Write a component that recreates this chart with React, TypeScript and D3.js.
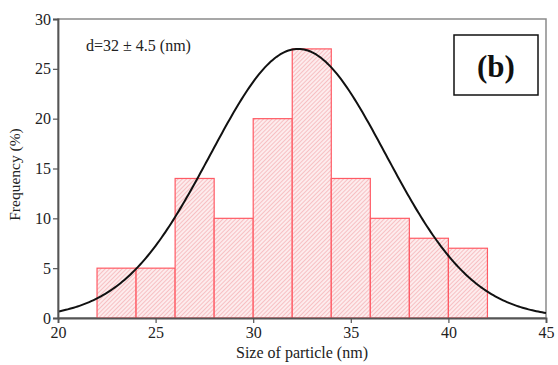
import { useEffect, useRef } from "react";
import * as d3 from "d3";

const W = 558;
const H = 365;
const MARGIN = { top: 19, right: 12, bottom: 47, left: 58 };

// histogram bins (nm) and frequencies (%)
const binStarts = [22, 24, 26, 28, 30, 32, 34, 36, 38, 40];
const binWidth = 2;
const frequencies = [5, 5, 14, 10, 20, 27, 14, 10, 8, 7];

const xTicks = [20, 25, 30, 35, 40, 45];
const yTicks = [0, 5, 10, 15, 20, 25, 30];

// gaussian fit parameters
const FIT_MEAN = 32.3;
const FIT_SIGMA = 4.5;
const FIT_PEAK = 27;

const FONT = '"Liberation Serif", "Times New Roman", serif';

export default function App() {
  const svgRef = useRef<SVGSVGElement>(null);

  useEffect(() => {
    const svgEl = svgRef.current;
    if (!svgEl) return;
    const svg = d3.select(svgEl);
    svg.selectAll("*").remove();

    const x = d3.scaleLinear().domain([20, 45]).range([MARGIN.left, W - MARGIN.right]);
    const y = d3.scaleLinear().domain([0, 30]).range([H - MARGIN.bottom, MARGIN.top]);

    const defs = svg.append("defs");
    const pat = defs
      .append("pattern")
      .attr("id", "hatch")
      .attr("patternUnits", "userSpaceOnUse")
      .attr("width", 3)
      .attr("height", 3)
      .attr("patternTransform", "rotate(45)");
    pat.append("rect").attr("width", 3).attr("height", 3).attr("fill", "#fdeced");
    pat
      .append("line")
      .attr("x1", 0)
      .attr("y1", 0)
      .attr("x2", 0)
      .attr("y2", 3)
      .attr("stroke", "#f2959a")
      .attr("stroke-width", 1);

    // frame
    svg
      .append("rect")
      .attr("x", x(20))
      .attr("y", y(30))
      .attr("width", x(45) - x(20))
      .attr("height", y(0) - y(30))
      .attr("fill", "none")
      .attr("stroke", "#8a8a8a")
      .attr("stroke-width", 1.5);

    // bars
    svg
      .append("g")
      .selectAll("rect")
      .data(binStarts)
      .join("rect")
      .attr("x", (d) => x(d))
      .attr("y", (_, i) => y(frequencies[i]))
      .attr("width", (d) => x(d + binWidth) - x(d))
      .attr("height", (_, i) => y(0) - y(frequencies[i]))
      .attr("fill", "url(#hatch)")
      .attr("stroke", "#ff5a64")
      .attr("stroke-width", 1.2);

    // fit curve
    const xs = d3.range(20, 45.01, 0.1);
    const line = d3
      .line<number>()
      .x((d) => x(d))
      .y((d) => y(FIT_PEAK * Math.exp(-((d - FIT_MEAN) ** 2) / (2 * FIT_SIGMA ** 2))));
    svg
      .append("path")
      .datum(xs)
      .attr("d", line)
      .attr("fill", "none")
      .attr("stroke", "#111")
      .attr("stroke-width", 2);

    // axes
    const xAxis = svg
      .append("g")
      .attr("transform", `translate(0,${y(0)})`)
      .call(d3.axisBottom(x).tickValues(xTicks).tickSize(5).tickPadding(4));
    const yAxis = svg
      .append("g")
      .attr("transform", `translate(${x(20)},0)`)
      .call(d3.axisLeft(y).tickValues(yTicks).tickSize(5).tickPadding(2));
    [xAxis, yAxis].forEach((g) => {
      g.attr("font-family", null).attr("font-size", null);
      g.select(".domain").attr("stroke", "#555").attr("stroke-width", 1.8);
      g.selectAll(".tick line").attr("stroke", "#555").attr("stroke-width", 1.2);
      g.selectAll(".tick text")
        .attr("fill", "#222")
        .style("font-family", FONT)
        .style("font-size", "16px");
    });

    svg
      .append("text")
      .attr("x", (x(20) + x(45)) / 2)
      .attr("y", H - 7)
      .attr("text-anchor", "middle")
      .style("font-family", FONT)
      .style("font-size", "16px")
      .attr("fill", "#222")
      .text("Size of particle (nm)");

    svg
      .append("text")
      .attr("transform", `translate(20,${(y(0) + y(30)) / 2 + 6}) rotate(-90)`)
      .attr("text-anchor", "middle")
      .style("font-family", FONT)
      .style("font-size", "15.5px")
      .attr("fill", "#222")
      .text("Frequency (%)");

    svg
      .append("text")
      .attr("x", 86)
      .attr("y", 51)
      .style("font-family", FONT)
      .style("font-size", "16px")
      .attr("fill", "#222")
      .text("d=32 ± 4.5 (nm)");

    // panel label
    svg
      .append("rect")
      .attr("x", 454)
      .attr("y", 35)
      .attr("width", 84)
      .attr("height", 60)
      .attr("fill", "#fff")
      .attr("stroke", "#111")
      .attr("stroke-width", 1.5);
    svg
      .append("text")
      .attr("x", 496)
      .attr("y", 77)
      .attr("text-anchor", "middle")
      .style("font-family", FONT)
      .style("font-weight", "bold")
      .style("font-size", "31px")
      .attr("fill", "#111")
      .text("(b)");
  }, []);

  return (
    <svg
      ref={svgRef}
      width={W}
      height={H}
      style={{ position: "absolute", left: 0, top: 0, background: "#fff" }}
    />
  );
}
